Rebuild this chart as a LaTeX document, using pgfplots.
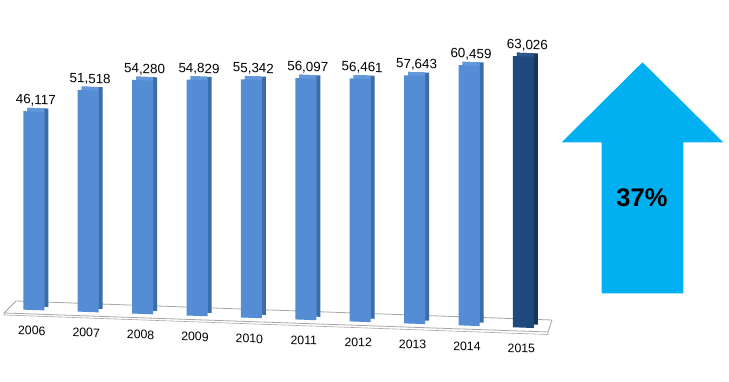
\documentclass[border=0pt]{standalone}
\usepackage{pgfplots}
\usepackage{pgfplotstable}
\pgfplotsset{compat=1.18}
\usepackage{fontspec}
\setmainfont{Liberation Sans}
\definecolor{barfront}{HTML}{548DD4}
\definecolor{barside}{HTML}{3D6CA8}
\definecolor{bartop}{HTML}{6399DC}
\definecolor{darkfront}{HTML}{1F497D}
\definecolor{darkside}{HTML}{16355C}
\definecolor{darktop}{HTML}{2B5791}
\definecolor{arrowblue}{HTML}{00B0F0}
\definecolor{floorline}{HTML}{A6A6A6}

\pgfplotstableread{
x y
0 46117
1 51518
2 54280
3 54829
4 55342
5 56097
6 56461
7 57643
8 60459
}\lightdata
\pgfplotstableread{
x y
9 63026
}\darkdata

\begin{document}
\begin{tikzpicture}
\begin{scope}[x=1bp,y=-1bp,yshift=382bp]
  \draw[floorline, fill=white, line width=0.8bp, line join=round]
    (16,301) -- (552,320) -- (548,332) -- (4,313) -- cycle;
  \draw[floorline, line width=0.6bp] (4,313) -- (4,315) -- (548,334.5) -- (548,332);
\end{scope}
\begin{scope}[yslant=-0.036]
\begin{axis}[
  at={(33.8bp,73.2bp)}, anchor=origin,
  x={(54.4bp,0bp)}, y={(0bp,0.0043bp)},
  xmin=-0.7, xmax=9.6, ymin=0, ymax=70000,
  clip=false, hide y axis,
  axis line style={draw=none}, tick style={draw=none},
  xtick={0,1,2,3,4,5,6,7,8,9},
  xticklabels={2006,2007,2008,2009,2010,2011,2012,2013,2014,2015},
  xticklabel style={anchor=center, xshift=-2bp, yshift=-16.5bp,
    font=\fontsize{12.3bp}{14bp}\selectfont, text=black},
  /pgf/number format/assume math mode=true,
  ybar, bar width=21bp,
]
% side faces
\addplot[fill=barside, draw=none, bar shift=4bp, yshift=3.5bp] table[x=x,y=y]{\lightdata};
\addplot[fill=darkside, draw=none, bar shift=4bp, yshift=3.5bp] table[x=x,y=y]{\darkdata};
% top faces
\addplot[fill=bartop, draw=none, bar width=17bp, bar shift=2bp, yshift=3.5bp] table[x=x,y=y]{\lightdata};
\addplot[fill=darktop, draw=none, bar width=17bp, bar shift=2bp, yshift=3.5bp] table[x=x,y=y]{\darkdata};
% front faces
\addplot[fill=barfront, draw=none, bar shift=0pt,
  nodes near coords={\pgfmathprintnumber[fixed, precision=0, 1000 sep={,}]{\pgfplotspointmeta}},
  every node near coord/.append style={anchor=center, xshift=2bp, yshift=11bp,
    font=\fontsize{13.4bp}{15bp}\selectfont, text=black}]
  table[x=x,y=y]{\lightdata};
\addplot[fill=darkfront, draw=none, bar shift=0pt,
  nodes near coords={\pgfmathprintnumber[fixed, precision=0, 1000 sep={,}]{\pgfplotspointmeta}},
  every node near coord/.append style={anchor=center, xshift=4bp, yshift=11bp,
    font=\fontsize{13.4bp}{15bp}\selectfont, text=black}]
  table[x=x,y=y]{\darkdata};
\end{axis}
\end{scope}
\begin{scope}[x=1bp,y=-1bp,yshift=382bp]
  \fill[arrowblue] (642.5,62.3) -- (723.3,142.3) -- (683.3,142.3) -- (683.3,293.3)
    -- (601.7,293.3) -- (601.7,142.3) -- (561.7,142.3) -- cycle;
  \node[text=black] at (642,197.5) {\bfseries\fontsize{25.5bp}{30bp}\selectfont 37\%};
\end{scope}
\pgfresetboundingbox
\path[use as bounding box] (0,0) rectangle (729bp,382bp);
\end{tikzpicture}
\end{document}
